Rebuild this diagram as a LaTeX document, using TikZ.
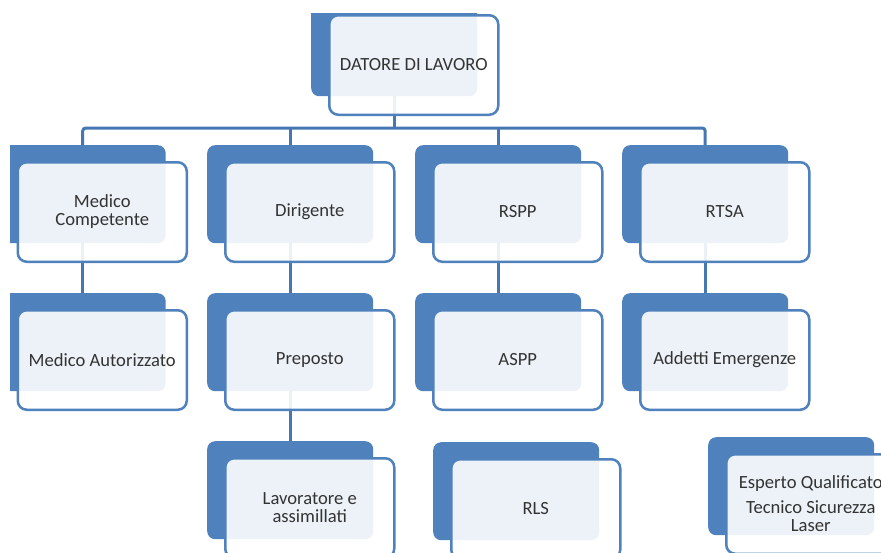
\documentclass[tikz,border=0pt]{standalone}
\usepackage{fontspec}
\setmainfont{Carlito}
\definecolor{accent}{HTML}{4F81BD}
\definecolor{linkblue}{HTML}{4777B3}
\definecolor{labelgrey}{HTML}{333333}
\tikzset{
  backcard/.style={draw=none, fill=accent, rounded corners=8pt,
    minimum width=166pt, minimum height=98pt, inner sep=0pt, anchor=north west},
  frontcard/.style={draw=accent, line width=2.5pt, fill=white, fill opacity=0.9,
    text opacity=1, rounded corners=9pt, minimum width=169pt, minimum height=99.5pt,
    inner sep=0pt, align=center, text=labelgrey,
    font=\fontsize{18.6}{18}\selectfont, anchor=north west},
  frontat/.style={shift={(17,16)}},
  link/.style={draw=linkblue, line width=3pt},
}
\begin{document}
\begin{tikzpicture}[x=1pt, y=-1pt]
  \useasboundingbox (0,0) rectangle (881,552);
  \fill[white] (0,0) rectangle (881,552);
  \begin{scope}
    \clip (10,13) rectangle (881,552);
    % back cards
    \node[backcard] (dl-b) at (311,-2) {};
    \node[backcard] (mc-b) at (-0.5,145) {};
    \node[backcard] (dg-b) at (207,145) {};
    \node[backcard] (rs-b) at (415,145) {};
    \node[backcard] (rt-b) at (622,145) {};
    \node[backcard] (ma-b) at (-0.5,293) {};
    \node[backcard] (pp-b) at (207,293) {};
    \node[backcard] (as-b) at (415,293) {};
    \node[backcard] (ae-b) at (622,293) {};
    \node[backcard] (lv-b) at (207,441) {};
    \node[backcard] (rl-b) at (433,442) {};
    \node[backcard] (eq-b) at (708,437) {};
    % connectors
    \coordinate (bus) at (394,128);
    \draw[link] (dl-b.south) -- (dl-b.south |- bus);
    \draw[link, rounded corners=3pt] (mc-b.north) |- (bus) -| (rt-b.north);
    \draw[link] (dg-b.north) -- (dg-b.north |- bus);
    \draw[link] (rs-b.north) -- (rs-b.north |- bus);
    \draw[link] (mc-b.south) -- (ma-b.north);
    \draw[link] (dg-b.south) -- (pp-b.north);
    \draw[link] (pp-b.south) -- (lv-b.north);
    \draw[link] (rs-b.south) -- (as-b.north);
    \draw[link] (rt-b.south) -- (ae-b.north);
    % front cards
    \node[frontcard] (dl) at ([frontat]dl-b.north west) {DATORE DI LAVORO};
    \node[frontcard] (mc) at ([frontat]mc-b.north west) {Medico\\Competente};
    \node[frontcard] (dg) at ([frontat]dg-b.north west) {Dirigente};
    \node[frontcard] (rs) at ([frontat]rs-b.north west) {RSPP};
    \node[frontcard] (rt) at ([frontat]rt-b.north west) {RTSA};
    \node[frontcard] (ma) at ([frontat]ma-b.north west) {Medico Autorizzato};
    \node[frontcard] (pp) at ([frontat]pp-b.north west) {Preposto};
    \node[frontcard] (as) at ([frontat]as-b.north west) {ASPP};
    \node[frontcard] (ae) at ([frontat]ae-b.north west) {Addetti Emergenze};
    \node[frontcard] (lv) at ([frontat]lv-b.north west) {Lavoratore e\\assimillati};
    \node[frontcard] (rl) at ([frontat]rl-b.north west) {RLS};
    \node[frontcard] (eq) at ([frontat]eq-b.north west)
      {Esperto Qualificato\\[7pt]Tecnico Sicurezza\\Laser};
  \end{scope}
\end{tikzpicture}
\end{document}
